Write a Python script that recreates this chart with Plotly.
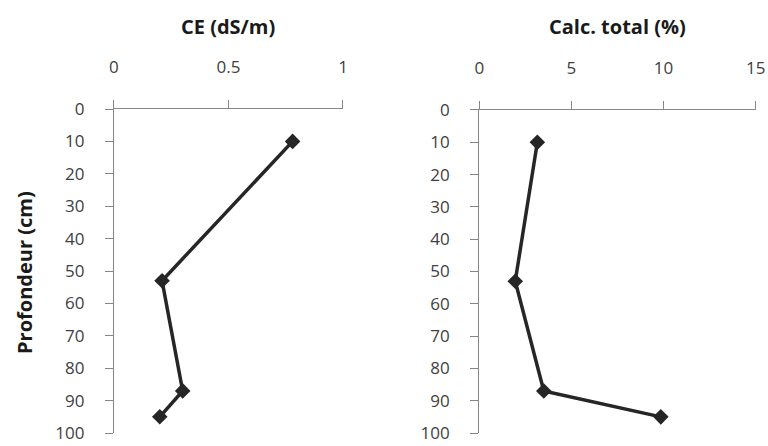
import plotly.graph_objects as go

# Soil profile measurements
depth_cm = [10, 53, 87, 95]
ce_dsm = [0.78, 0.21, 0.30, 0.20]
calc_total_pct = [3.15, 1.95, 3.5, 9.85]

ce_ticks = [0, 0.5, 1]
ce_ticklabels = ["0", "0.5", "1"]
calc_ticks = [0, 5, 10, 15]
depth_ticks = list(range(0, 101, 10))

FONT = "Open Sans"
LINE_COLOR = "#262626"
AXIS_COLOR = "#868686"
TICK_FONT = dict(family=FONT, size=17, color="#404040")
TITLE_FONT = dict(family=FONT, size=20, color="#1a1a1a")

fig = go.Figure()

marker = dict(symbol="diamond", size=12, color=LINE_COLOR)
fig.add_trace(go.Scatter(x=ce_dsm, y=depth_cm, mode="lines+markers",
                         line=dict(color=LINE_COLOR, width=3.5),
                         marker=marker, xaxis="x", yaxis="y", showlegend=False,
                         cliponaxis=False))
fig.add_trace(go.Scatter(x=calc_total_pct, y=depth_cm, mode="lines+markers",
                         line=dict(color=LINE_COLOR, width=3.5),
                         marker=marker, xaxis="x2", yaxis="y2", showlegend=False,
                         cliponaxis=False))

common_x = dict(side="top", showline=True, linecolor=AXIS_COLOR, linewidth=1.3,
                ticks="outside", ticklen=8, tickcolor=AXIS_COLOR, tickwidth=1.3,
                showgrid=False, zeroline=False, tickfont=TICK_FONT,
                ticklabelstandoff=20, automargin=False, ticklabeloverflow="allow")
common_y = dict(showline=True, linecolor=AXIS_COLOR, linewidth=1.3,
                ticks="outside", ticklen=8, tickcolor=AXIS_COLOR, tickwidth=1.3,
                showgrid=False, zeroline=False, tickfont=TICK_FONT,
                range=[100, 0], tickvals=depth_ticks, ticklabelstandoff=17,
                automargin=False, ticklabeloverflow="allow")

fig.update_layout(
    width=768, height=446,
    margin=dict(l=0, r=0, t=0, b=0),
    paper_bgcolor="white", plot_bgcolor="white",
    xaxis=dict(common_x, domain=[0.1484, 0.4466], range=[0, 1],
               tickvals=ce_ticks, ticktext=ce_ticklabels, anchor="y"),
    yaxis=dict(common_y, domain=[0.0291, 0.7556], anchor="x"),
    xaxis2=dict(common_x, domain=[0.6241, 0.9840], range=[0, 15],
                tickvals=calc_ticks, anchor="y2"),
    yaxis2=dict(common_y, domain=[0.0291, 0.7534], anchor="x2"),
    annotations=[
        dict(text="<b>CE (dS/m)</b>", x=0.297, y=0.9395, xref="paper", yref="paper",
             showarrow=False, font=TITLE_FONT, xanchor="center", yanchor="middle"),
        dict(text="<b>Calc. total (%)</b>", x=0.8034, y=0.9395, xref="paper", yref="paper",
             showarrow=False, font=TITLE_FONT, xanchor="center", yanchor="middle"),
        dict(text="<b>Profondeur (cm)</b>", x=0.0326, y=0.388, xref="paper", yref="paper",
             showarrow=False, textangle=-90, font=TITLE_FONT,
             xanchor="center", yanchor="middle"),
    ],
)

fig.write_html("out.html")
